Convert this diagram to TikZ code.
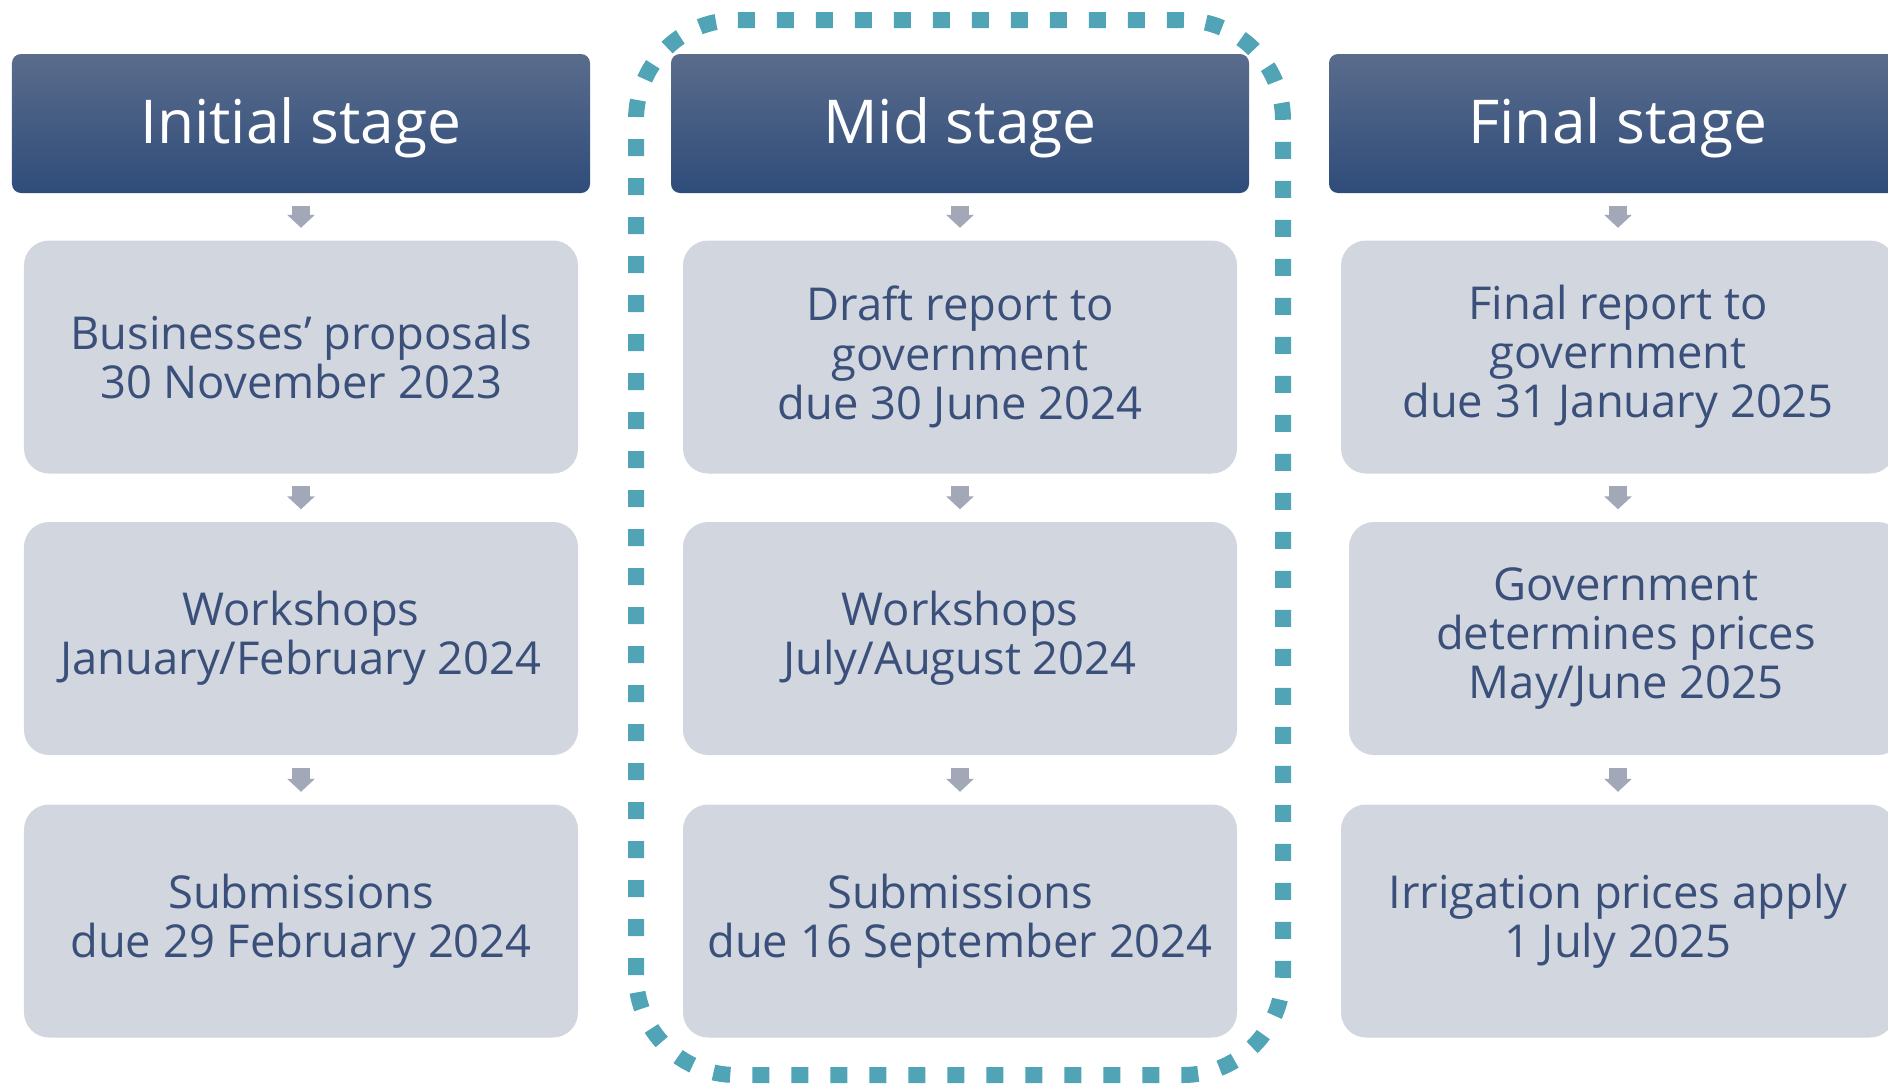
\documentclass[tikz,border=0pt]{standalone}
\usepackage{fontspec}
\setmainfont{Open Sans}
\usetikzlibrary{arrows.meta}

\definecolor{headtop}{RGB}{90,108,140}
\definecolor{headbot}{RGB}{47,76,122}
\definecolor{cardfill}{RGB}{210,214,223}
\definecolor{cardtext}{RGB}{58,80,122}
\definecolor{arrowgrey}{RGB}{163,168,184}
\definecolor{frameteal}{RGB}{80,164,182}

\tikzset{
	stagehead/.style={rounded corners=0.09cm, top color=headtop, bottom color=headbot, text=white, minimum width=5.78cm, minimum height=1.39cm, inner sep=0pt, text height=0.54cm, font=\fontsize{17.2}{19}\selectfont},
	stepcard/.style={rounded corners=0.25cm, fill=cardfill, text=cardtext, minimum width=5.54cm, minimum height=2.33cm, inner sep=0pt, align=center, font=\fontsize{12.9}{14}\selectfont},
	flowarrow/.style={draw=arrowgrey, line width=0.18cm, -{Triangle[width=0.27cm,length=0.13cm]}, shorten <=0.12cm, shorten >=0.12cm},
	midframe/.style={draw=frameteal, line width=0.16cm, dash pattern=on 0.17cm off 0.22cm, rounded corners=1cm}
}

\begin{document}
\begin{tikzpicture}
			%%%%% START %%%%%
			
			\useasboundingbox (0, 0) rectangle (18.88, 10.87);
			\clip (0, 0) rectangle (18.88, 10.87);
			
			\draw[midframe] (6.36, 0.12) rectangle (12.83, 10.67);
			
			\node[stagehead] (inihead) at (3.01, 9.635) {Initial stage};
			\node[stagehead] (midhead) at (9.60, 9.635) {Mid stage};
			\node[stagehead] (finhead) at (16.18, 9.635) {Final stage};
			
			\node[stepcard] (ini1) at (3.01, 7.30) {Businesses' proposals\\30 November 2023};
			\node[stepcard] (ini2) at (3.01, 4.485) {Workshops\\January/February 2024};
			\node[stepcard] (ini3) at (3.01, 1.66) {Submissions\\due 29 February 2024};
			
			\node[stepcard] (mid1) at (9.60, 7.30) {Draft report to\\government\\due 30 June 2024};
			\node[stepcard] (mid2) at (9.60, 4.485) {Workshops\\July/August 2024};
			\node[stepcard] (mid3) at (9.60, 1.66) {Submissions\\due 16 September 2024};
			
			\node[stepcard] (fin1) at (16.18, 7.30) {Final report to\\government\\due 31 January 2025};
			\node[stepcard] (fin2) at (16.26, 4.485) {Government\\determines prices\\May/June 2025};
			\node[stepcard] (fin3) at (16.18, 1.66) {Irrigation prices apply\\1 July 2025};
			
			\draw[flowarrow] (inihead) -- (ini1);
			\draw[flowarrow] (ini1) -- (ini2);
			\draw[flowarrow] (ini2) -- (ini3);
			
			\draw[flowarrow] (midhead) -- (mid1);
			\draw[flowarrow] (mid1) -- (mid2);
			\draw[flowarrow] (mid2) -- (mid3);
			
			\draw[flowarrow] (finhead.south) -- (fin1.north);
			\draw[flowarrow] (fin1.south) -- (fin1.south |- fin2.north);
			\draw[flowarrow] (fin1.south |- fin2.south) -- (fin3.north);
			
			%%%%% END %%%%%
\end{tikzpicture}
\end{document}
